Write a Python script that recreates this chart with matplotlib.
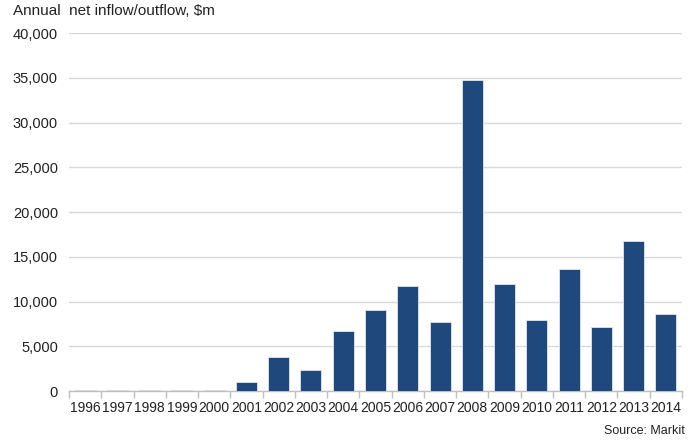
import matplotlib.pyplot as plt
from matplotlib.ticker import FuncFormatter, MultipleLocator

plt.rcParams['font.family'] = ['Liberation Sans', 'DejaVu Sans']

years = ['1996', '1997', '1998', '1999', '2000', '2001', '2002', '2003', '2004', '2005',
         '2006', '2007', '2008', '2009', '2010', '2011', '2012', '2013', '2014']
flows = [150, 150, 150, 150, 150, 1050, 3750, 2370, 6700, 9000,
         11700, 7700, 34700, 11950, 7900, 13650, 7200, 16800, 8650]

bar_color = '#1f487c'

fig = plt.figure(figsize=(6.94, 4.4), dpi=100)
ax = fig.add_axes([69/694, 1 - 391/440, (682-69)/694, (391-33)/440])

x = range(len(years))
ax.bar(x, flows, width=0.65, color=bar_color, edgecolor='#dfe5ee', linewidth=0.6, zorder=3)

ax.set_xlim(-0.5, len(years) - 0.5)
ax.set_ylim(0, 40000)
ax.yaxis.set_major_locator(MultipleLocator(5000))
ax.yaxis.set_major_formatter(FuncFormatter(lambda v, p: f'{int(v):,}'))
ax.grid(axis='y', color='#d9d9d9', linewidth=1, zorder=0)

ax.set_xticks(list(x))
ax.set_xticklabels(years)
ax.set_xticks([i - 0.5 for i in range(len(years) + 1)], minor=True)
ax.tick_params(axis='x', which='major', length=0, pad=7, labelsize=10, colors='#222222')
ax.tick_params(axis='x', which='minor', length=5, color='#bfbfbf', width=1)
ax.tick_params(axis='y', length=0, pad=8, labelsize=10.5, colors='#222222')

for s in ['top', 'right', 'left']:
    ax.spines[s].set_visible(False)
ax.spines['bottom'].set_color('#bfbfbf')
ax.spines['bottom'].set_linewidth(1)

fig.text(13/694, 1 - 11/440, 'Annual  net inflow/outflow, $m', fontsize=11,
         color='#222222', va='center', ha='left')
fig.text(685/694, 1 - 431/440, 'Source: Markit', fontsize=9, color='#222222',
         va='center', ha='right')

fig.savefig('out.png', dpi=100)
